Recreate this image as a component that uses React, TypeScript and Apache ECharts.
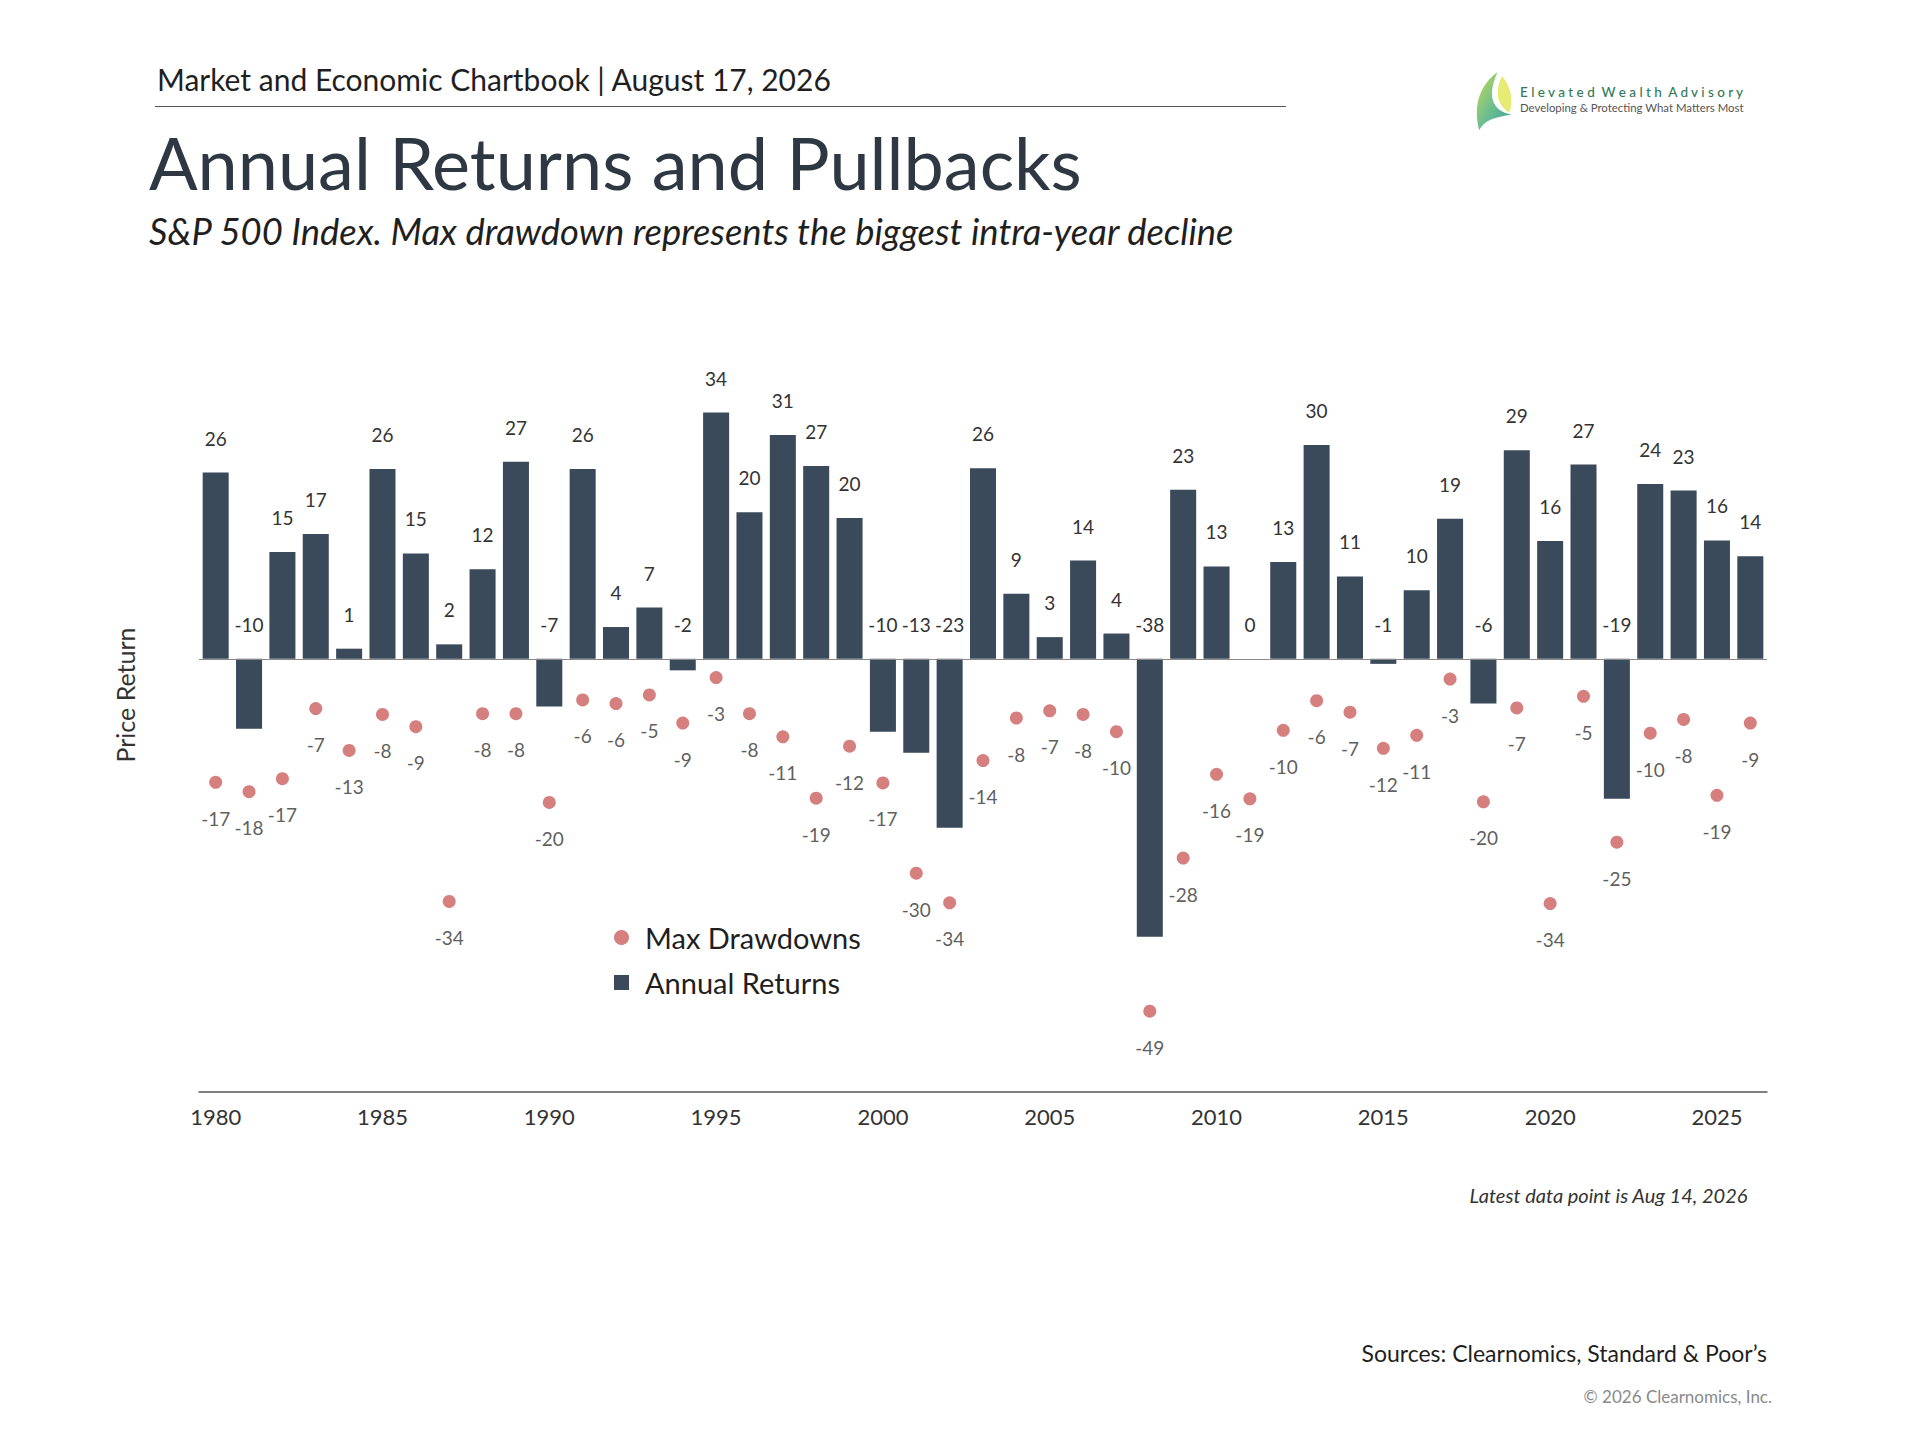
import React, { useEffect, useRef } from "react";
import * as echarts from "echarts";

const years = [
  1980, 1981, 1982, 1983, 1984, 1985, 1986, 1987, 1988, 1989,
  1990, 1991, 1992, 1993, 1994, 1995, 1996, 1997, 1998, 1999,
  2000, 2001, 2002, 2003, 2004, 2005, 2006, 2007, 2008, 2009,
  2010, 2011, 2012, 2013, 2014, 2015, 2016, 2017, 2018, 2019,
  2020, 2021, 2022, 2023, 2024, 2025, 2026,
];

// calendar-year price return, %
const annualReturns = [
  25.8, -9.7, 14.8, 17.3, 1.4, 26.3, 14.6, 2.0, 12.4, 27.3,
  -6.6, 26.3, 4.4, 7.1, -1.6, 34.1, 20.3, 31.0, 26.7, 19.5,
  -10.1, -13.0, -23.4, 26.4, 9.0, 3.0, 13.6, 3.5, -38.5, 23.4,
  12.8, 0.0, 13.4, 29.6, 11.4, -0.7, 9.5, 19.4, -6.2, 28.9,
  16.3, 26.9, -19.4, 24.2, 23.3, 16.4, 14.2,
];

// biggest intra-year decline, %
const maxDrawdowns = [
  -17.1, -18.4, -16.6, -6.9, -12.7, -7.7, -9.4, -33.6, -7.6, -7.6,
  -19.9, -5.7, -6.2, -5.0, -8.9, -2.6, -7.6, -10.8, -19.3, -12.1,
  -17.2, -29.7, -33.8, -14.1, -8.2, -7.2, -7.7, -10.1, -48.8, -27.6,
  -16.0, -19.4, -9.9, -5.8, -7.4, -12.4, -10.6, -2.8, -19.8, -6.8,
  -33.9, -5.2, -25.4, -10.3, -8.4, -18.9, -8.9,
];

const FONT = "Lato";
const BAR = "#3a4a5a";
const DOT = "#cb5f5f";

const leafOuter =
  "M24 0 C10 12 2 32 8 60 C12 50 22 46 36 44 C20 40 14 26 24 0 Z";
const leafInner =
  "M28 4 C22 18 22 32 34 42 C38 30 36 16 28 4 Z";

echarts.graphic.registerShape("leafOuter", echarts.graphic.extendPath(leafOuter, {}));
echarts.graphic.registerShape("leafInner", echarts.graphic.extendPath(leafInner, {}));

const App = () => {
  const chartRef = useRef<HTMLDivElement>(null);

  useEffect(() => {
    document.body.style.margin = "0";
    if (!chartRef.current) return;
    const chart = echarts.init(chartRef.current, null, { renderer: "svg" });

    const fmt = (p: any) => String(Math.round(p.value));

    const option = {
      animation: false,
      backgroundColor: "#ffffff",
      textStyle: { fontFamily: FONT },
      graphic: [
        {
          type: "text",
          left: 157,
          top: 64,
          style: {
            text: "Market and Economic Chartbook | August 17, 2026",
            font: `30px ${FONT}`,
            fill: "#1f1f1f",
          },
        },
        {
          type: "line",
          shape: { x1: 155, y1: 106.5, x2: 1286, y2: 106.5 },
          style: { stroke: "#555555", lineWidth: 1.2 },
        },
        {
          type: "text",
          left: 149,
          top: 126,
          style: {
            text: "Annual Returns and Pullbacks",
            font: `72px ${FONT}`,
            fill: "#2e3843",
          },
        },
        {
          type: "text",
          left: 149,
          top: 213,
          style: {
            text: "S&P 500 Index. Max drawdown represents the biggest intra-year decline",
            font: `italic 36.4px ${FONT}`,
            fill: "#1f1f1f",
          },
        },
        {
          type: "leafOuter",
          x: 1470,
          y: 72,
          scaleX: 1.15,
          scaleY: 0.97,
          style: {
            fill: new echarts.graphic.LinearGradient(0, 0, 1, 1, [
              { offset: 0, color: "#c9dc52" },
              { offset: 0.5, color: "#6fbf8f" },
              { offset: 1, color: "#3c9c9a" },
            ]),
          },
        },
        {
          type: "leafInner",
          x: 1470,
          y: 72,
          scaleX: 1.15,
          scaleY: 0.97,
          style: { fill: "#e2e85a", opacity: 0.85 },
        },
        {
          type: "text",
          left: 1520,
          top: 85,
          style: {
            text: "E l e v a t e d  W e a l t h  A d v i s o r y",
            font: `500 13.5px ${FONT}`,
            fill: "#2f7a57",
          },
        },
        {
          type: "text",
          left: 1520,
          top: 102,
          style: {
            text: "Developing & Protecting What Matters Most",
            font: `11.4px ${FONT}`,
            fill: "#555555",
          },
        },
        {
          type: "text",
          x: 125,
          y: 695,
          rotation: Math.PI / 2,
          style: {
            text: "Price Return",
            font: `25px ${FONT}`,
            fill: "#333333",
            align: "center",
            verticalAlign: "middle",
          },
        },
        {
          type: "text",
          right: 172,
          top: 1185,
          style: {
            text: "Latest data point is Aug 14, 2026",
            font: `italic 20px ${FONT}`,
            fill: "#333333",
          },
        },
        {
          type: "text",
          right: 153,
          top: 1341,
          style: {
            text: "Sources: Clearnomics, Standard & Poor\u2019s",
            font: `23px ${FONT}`,
            fill: "#1f1f1f",
          },
        },
        {
          type: "text",
          right: 148,
          top: 1388,
          style: {
            text: "\u00a9 2026 Clearnomics, Inc.",
            font: `17px ${FONT}`,
            fill: "#8a8a8a",
          },
        },
      ],
      legend: {
        orient: "vertical",
        left: 609,
        top: 918,
        itemGap: 16,
        itemWidth: 15,
        itemHeight: 15,
        textStyle: { fontSize: 29, color: "#1f1f1f", fontFamily: FONT, padding: [0, 0, 0, 11] },
        data: [
          { name: "Max Drawdowns", icon: "circle" },
          { name: "Annual Returns", icon: "rect" },
        ],
      },
      grid: { left: 199, right: 153, top: 370, bottom: 348, containLabel: false },
      xAxis: {
        type: "category",
        data: years,
        axisLine: { onZero: false, lineStyle: { color: "#555555", width: 1.5 } },
        axisTick: { show: false },
        axisLabel: {
          interval: (i: number) => years[i] % 5 === 0,
          fontSize: 22,
          color: "#333333",
          fontFamily: FONT,
          margin: 13,
        },
      },
      yAxis: {
        type: "value",
        min: -60,
        max: 40,
        interval: 20,
        axisLine: { show: false },
        axisTick: { show: false },
        axisLabel: { show: false },
        splitLine: { show: false },
      },
      series: [
        {
          name: "Annual Returns",
          type: "bar",
          data: annualReturns,
          barCategoryGap: "22%",
          itemStyle: { color: BAR },
          label: {
            show: true,
            position: "top",
            distance: 25,
            formatter: fmt,
            fontSize: 19,
            color: "#333333",
            fontFamily: FONT,
          },
          markLine: {
            silent: true,
            symbol: "none",
            label: { show: false },
            lineStyle: { color: "#8a8a8a", width: 1.2, type: "solid" },
            data: [{ yAxis: 0 }],
          },
        },
        {
          name: "Max Drawdowns",
          type: "scatter",
          data: maxDrawdowns,
          symbol: "circle",
          symbolSize: 13,
          itemStyle: { color: DOT },
          label: {
            show: true,
            position: "bottom",
            distance: 20,
            formatter: fmt,
            fontSize: 19,
            color: "#333333",
            fontFamily: FONT,
          },
        },
      ],
    };

    chart.setOption(option);
    return () => {
      chart.dispose();
    };
  }, []);

  return <div ref={chartRef} style={{ width: 1920, height: 1440 }} />;
};

export default App;
